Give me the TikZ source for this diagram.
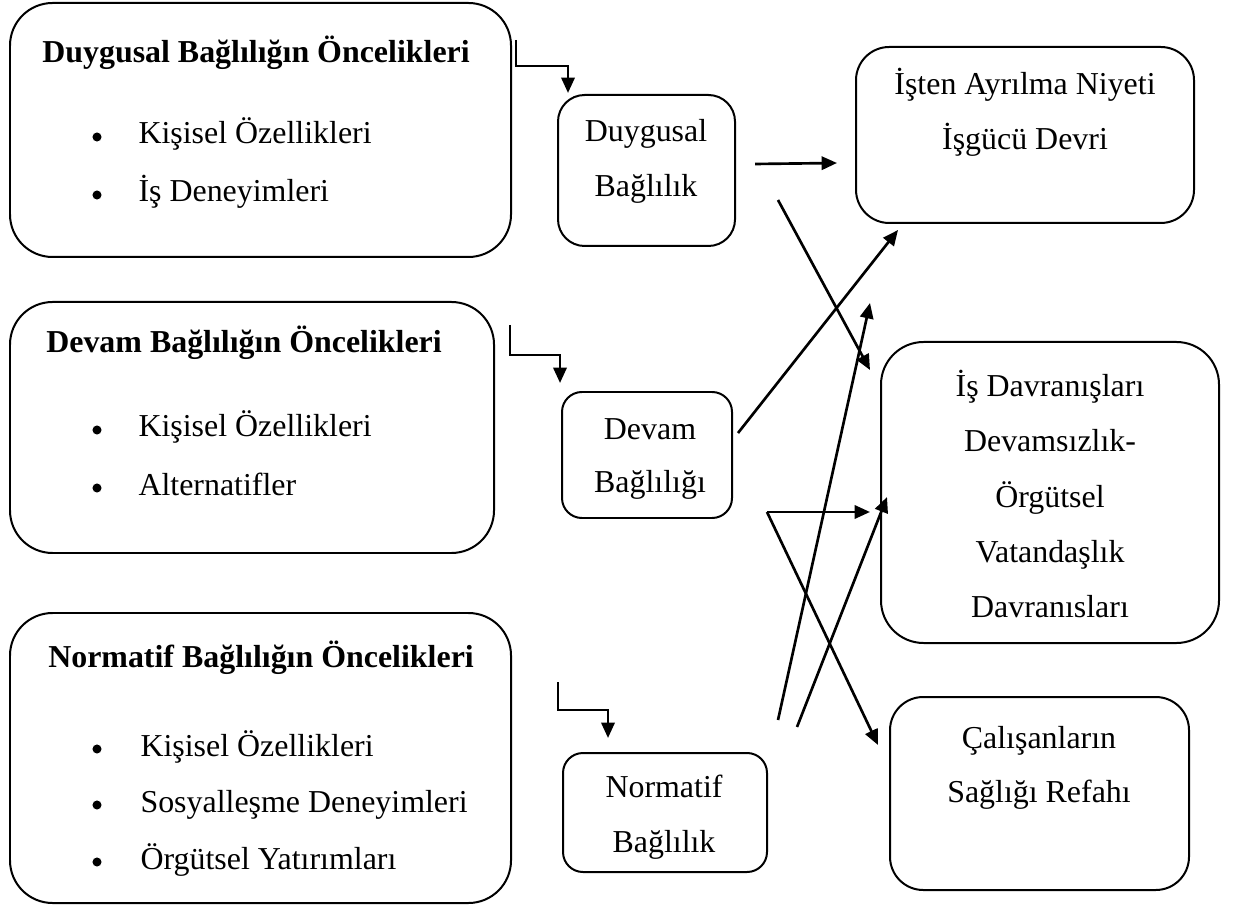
\documentclass[tikz,border=0pt]{standalone}
\usepackage{fontspec}
\setmainfont{Liberation Serif}
\usetikzlibrary{arrows.meta,fit}

\tikzset{
  box/.style={draw, line width=0.75pt, inner sep=0pt},
  conn/.style={line width=1pt, -{Triangle[length=5.8pt,width=5pt]}},
  txt/.style={font=\fontsize{12pt}{14pt}\selectfont, inner sep=0pt, anchor=base},
  head/.style={txt, font=\fontsize{12pt}{14pt}\selectfont\bfseries},
  item/.style={txt, anchor=base west},
  dot/.style={fill=black}
}

\begin{document}
\begin{tikzpicture}[x=0.376pt, y=-0.376pt]
\useasboundingbox (0,0) rectangle (1235,907);

% --- antecedent boxes (left column)
\node[box, rounded corners=16pt, fit={(10,3) (511,257)}] (antA) {};
\node[box, rounded corners=16pt, fit={(10,302) (494,553)}] (antC) {};
\node[box, rounded corners=16pt, fit={(10,613) (511,903)}] (antN) {};

% --- commitment boxes (middle column)
\node[box, rounded corners=10pt, fit={(558,95) (735,246)}] (comA) {};
\node[box, rounded corners=7.5pt, fit={(562,392) (732,518)}] (comC) {};
\node[box, rounded corners=7.5pt, fit={(563,753) (767,872)}] (comN) {};

% --- outcome boxes (right column)
\node[box, rounded corners=12.5pt, fit={(856,47) (1194,223)}] (outT) {};
\node[box, rounded corners=16pt, fit={(881,342) (1219,643)}] (outB) {};
\node[box, rounded corners=12.5pt, fit={(890,697) (1189,890)}] (outW) {};

% --- texts of the antecedent boxes
\node[head] (antAh) at (256,63) {Duygusal Bağlılığın Öncelikleri};
\fill[dot] (97,137) circle[radius=1.7pt];
\node[item] (antA1) at (138,144) {Kişisel Özellikleri};
\fill[dot] (97,195) circle[radius=1.7pt];
\node[item] (antA2) at (138,202) {İş Deneyimleri};

\node[head] (antCh) at (244,353) {Devam Bağlılığın Öncelikleri};
\fill[dot] (97,430) circle[radius=1.7pt];
\node[item] (antC1) at (138,437) {Kişisel Özellikleri};
\fill[dot] (97,488) circle[radius=1.7pt];
\node[item] (antC2) at (138,495) {Alternatifler};

\node[head] (antNh) at (261,667) {Normatif Bağlılığın Öncelikleri};
\fill[dot] (97,749) circle[radius=1.7pt];
\node[item] (antN1) at (140,756) {Kişisel Özellikleri};
\fill[dot] (97,805) circle[radius=1.7pt];
\node[item] (antN2) at (140,812) {Sosyalleşme Deneyimleri};
\fill[dot] (97,862) circle[radius=1.7pt];
\node[item] (antN3) at (140,869) {Örgütsel Yatırımları};

% --- texts of the commitment boxes
\node[txt] (comA1) at (646,142) {Duygusal};
\node[txt] (comA2) at (646,197) {Bağlılık};
\node[txt] (comC1) at (650,440) {Devam};
\node[txt] (comC2) at (650,493) {Bağlılığı};
\node[txt] (comN1) at (664,797) {Normatif};
\node[txt] (comN2) at (664,852) {Bağlılık};

% --- texts of the outcome boxes
\node[txt] (outT1) at (1025,95) {İşten Ayrılma Niyeti};
\node[txt] (outT2) at (1025,150) {İşgücü Devri};
\node[txt] (outB1) at (1050,397) {İş Davranışları};
\node[txt] (outB2) at (1050,452) {Devamsızlık-};
\node[txt] (outB3) at (1050,507) {Örgütsel};
\node[txt] (outB4) at (1050,562) {Vatandaşlık};
\node[txt] (outB5) at (1050,617) {Davranısları};
\node[txt] (outW1) at (1039,748) {Çalışanların};
\node[txt] (outW2) at (1039,802) {Sağlığı Refahı};

% --- connector end points
\coordinate (eA0) at (516,40);  \coordinate (eA1) at (568,66);  \coordinate (eA2) at (568,93);
\coordinate (eC0) at (510,325); \coordinate (eC1) at (560,355); \coordinate (eC2) at (560,383);
\coordinate (eN0) at (558,682); \coordinate (eN1) at (608,710); \coordinate (eN2) at (608,738);

\coordinate (a1s) at (755,164); \coordinate (a1e) at (837,163);
\coordinate (a2s) at (778,200); \coordinate (a2e) at (870,370);
\coordinate (a3s) at (738,433); \coordinate (a3e) at (898,230);
\coordinate (a4s) at (778,720); \coordinate (a4e) at (870,303);
\coordinate (a5s) at (797,727); \coordinate (a5e) at (887,497);
\coordinate (a6s) at (767,512); \coordinate (a6e) at (870,512);
\coordinate (a7e) at (878,745);

% --- elbow arrows: antecedents -> commitments
\draw[conn] (eA0) |- (eA1) -- (eA2);
\draw[conn] (eC0) |- (eC1) -- (eC2);
\draw[conn] (eN0) |- (eN1) -- (eN2);

% --- commitments -> outcomes
\draw[conn] (a1s) -- (a1e);
\draw[conn] (a2s) -- (a2e);
\draw[conn] (a3s) -- (a3e);
\draw[conn] (a4s) -- (a4e);
\draw[conn] (a5s) -- (a5e);
\draw[conn] (a6s) -- (a6e);
\draw[conn] (a6s) -- (a7e);
\end{tikzpicture}
\end{document}
